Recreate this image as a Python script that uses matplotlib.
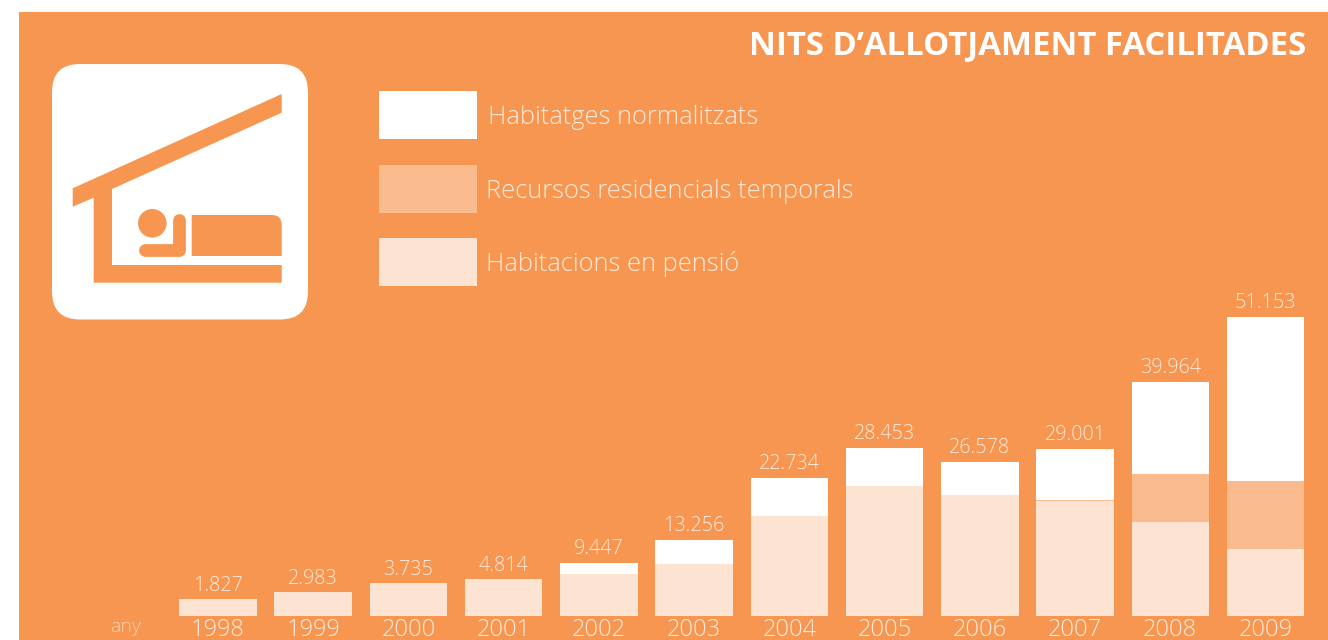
import matplotlib
matplotlib.use("Agg")
import matplotlib.pyplot as plt
from matplotlib.patches import Rectangle, Polygon, Circle, FancyBboxPatch, PathPatch
from matplotlib.path import Path

# ── data (bar heights, they don't strictly follow the labels) ──
years = [1998, 1999, 2000, 2001, 2002, 2003, 2004, 2005, 2006, 2007, 2008, 2009]
pensio = [2825, 4023, 5563, 6248, 7104, 8816, 17033, 22169, 20628, 19600, 16057, 11384]
temporals = [0, 0, 0, 0, 0, 0, 0, 0, 0, 171, 8166, 11641]
normalitzats = [0, 0, 0, 0, 1883, 4108, 6505, 6505, 5649, 8731, 15750, 28075]
total_labels = ["1.827", "2.983", "3.735", "4.814", "9.447", "13.256",
                "22.734", "28.453", "26.578", "29.001", "39.964", "51.153"]
legend_labels = ["Habitatges normalitzats", "Recursos residencials temporals", "Habitacions en pensió"]

ORANGE = "#F79650"
MID = "#F9BB8D"
LIGHT = "#FDE3D1"
TXT = "#FEEBDD"
W, H = 1328, 640

plt.rcParams["font.family"] = ["Open Sans", "DejaVu Sans"]

fig = plt.figure(figsize=(W / 100, H / 100), dpi=100, facecolor="white")

# ── overlay in pixel coordinates: background, icon, legend ───────────────────
bg = fig.add_axes([0, 0, 1, 1])
bg.set_xlim(0, W)
bg.set_ylim(H, 0)
bg.axis("off")
bg.add_patch(Rectangle((19, 12), W - 19, H - 12, color=ORANGE, lw=0))

bg.text(1306, 54, "NITS D’ALLOTJAMENT FACILITADES", color="white", fontsize=23.7,
        fontweight="bold", ha="right", va="baseline")

# icon
bg.add_patch(FancyBboxPatch((80, 92), 200, 199.5, boxstyle="round,pad=28,rounding_size=28",
                            fc="white", ec="none"))
bg.add_patch(Polygon([(72.7, 188.3), (281.7, 94), (281.7, 112.7), (112, 189), (112, 265),
                      (281.7, 265), (281.7, 282.7), (93.7, 282.7), (93.7, 197.7), (72.7, 206.7)],
                     fc=ORANGE, ec="none"))
bg.add_patch(Circle((152.3, 223.3), 14.3, fc=ORANGE, ec="none"))
bg.plot([145, 178.5, 178.5], [249.5, 249.5, 220], color=ORANGE, lw=9.2,
        solid_capstyle="round", solid_joinstyle="round")
bed = Path([(191.7, 215), (272, 215), (281.7, 215), (281.7, 225), (281.7, 256), (191.7, 256), (191.7, 215)],
           [Path.MOVETO, Path.LINETO, Path.CURVE3, Path.CURVE3, Path.LINETO, Path.LINETO, Path.CLOSEPOLY])
bg.add_patch(PathPatch(bed, fc=ORANGE, ec="none"))

# legend
legend_colors = ["white", MID, LIGHT]
legend_tops = [91, 165, 238]
legend_x = [488, 486.5, 486.5]
for lab, c, top, tx in zip(legend_labels, legend_colors, legend_tops, legend_x):
    bg.add_patch(Rectangle((379, top), 98, 47.5, fc=c, ec="none"))
    bg.text(tx, top + 26, lab, color=TXT, fontsize=18.3, fontweight="light", ha="left", va="center")

bg.text(126, 627, "any", color="#FBD0AE", fontsize=14, fontweight="light", ha="center", va="center")

# ── bars ──────────────────────────────────────────────────────────────────────
px_year = 95.23
ax_l, ax_r = 170, 1313
ax_b, ax_t = 615.5, 316.5
ax = fig.add_axes([ax_l / W, 1 - ax_b / H, (ax_r - ax_l) / W, (ax_b - ax_t) / H])
ax.patch.set_alpha(0)
ax.set_xlim(1998 - (218 - ax_l) / px_year, 1998 + (ax_r - 218) / px_year)
ax.set_ylim(0, 51153)

bar_w = 77.5 / px_year
bott2 = [a + b for a, b in zip(pensio, temporals)]
tops = [a + b for a, b in zip(bott2, normalitzats)]
ax.bar(years, pensio, width=bar_w, color=LIGHT, linewidth=0)
ax.bar(years, temporals, width=bar_w, bottom=pensio, color=MID, linewidth=0)
ax.bar(years, normalitzats, width=bar_w, bottom=bott2, color="white", linewidth=0)

for x, t, lab in zip(years, tops, total_labels):
    ax.annotate(lab, (x, t), xytext=(0, 2.5), textcoords="offset points", ha="center", va="bottom",
                color=TXT, fontsize=14.2, fontweight="light", annotation_clip=False)

for s in ax.spines.values():
    s.set_visible(False)
ax.set_yticks([])
ax.set_xticks(years)
ax.set_xticklabels([str(y) for y in years], fontsize=17, fontweight="light", color=TXT)
ax.tick_params(axis="x", length=0, pad=1.5)

fig.savefig("out.png", dpi=100, facecolor="white")
plt.close()
